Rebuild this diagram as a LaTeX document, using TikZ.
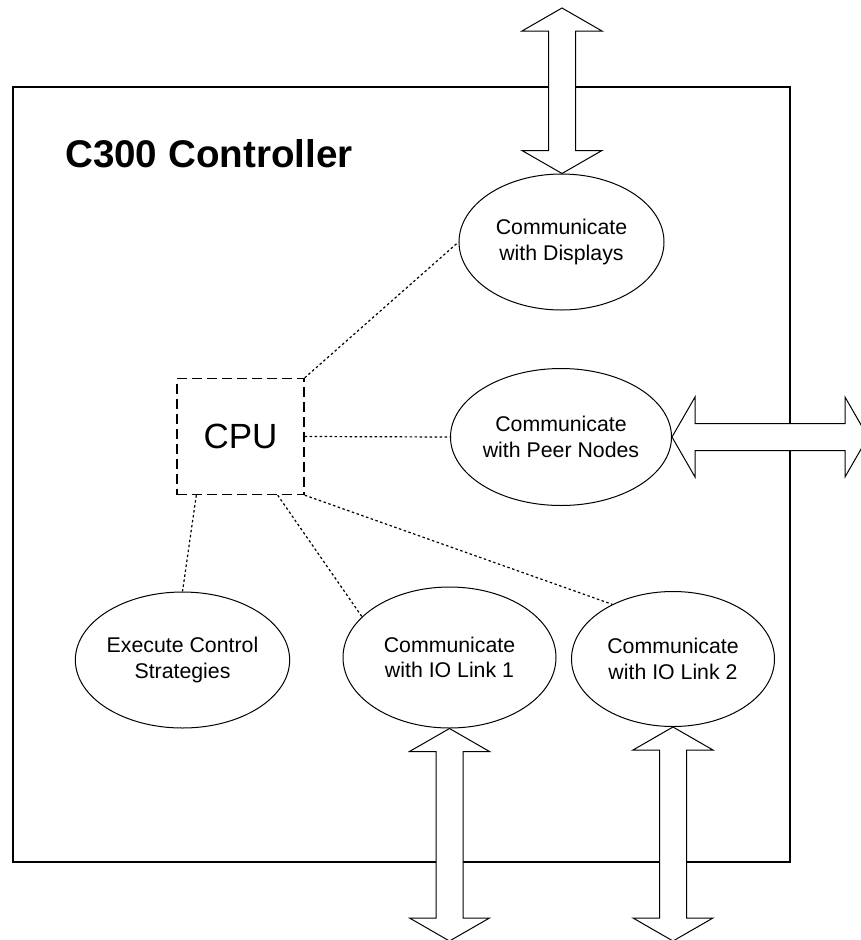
\documentclass[tikz,border=0pt]{standalone}
\usepackage{fontspec}
\setmainfont{Liberation Sans}
\usetikzlibrary{shapes.geometric,calc}
\tikzset{
  ell/.style={ellipse,draw,line width=1pt,fill=white,inner sep=0pt,align=center,
    font=\fontsize{21.3}{25.5}\selectfont},
  cpubox/.style={rectangle,draw,line width=1.4pt,dash pattern=on 10pt off 5pt,
    minimum width=127pt,minimum height=116pt,inner sep=0pt,font=\fontsize{35}{40}\selectfont},
  dotline/.style={line width=1.2pt,dash pattern=on 2.5pt off 2.5pt},
  bigarrow/.style={draw,line width=1pt,fill=white,line join=miter},
  frame/.style={draw,line width=1.3pt}
}
\newcommand{\VDoubleArrow}[2]{%
  \draw[bigarrow] let \p1=(#1), \p2=(#2) in
   (\x1,\y1) -- (\x1+40pt,\y1-23pt) -- (\x1+13.5pt,\y1-23pt) -- (\x1+13.5pt,\y2+23pt)
   -- (\x1+40pt,\y2+23pt) -- (\x1,\y2) -- (\x1-40pt,\y2+23pt) -- (\x1-13.5pt,\y2+23pt)
   -- (\x1-13.5pt,\y1-23pt) -- (\x1-40pt,\y1-23pt) -- cycle;}
\newcommand{\HDoubleArrow}[2]{%
  \draw[bigarrow] let \p1=(#1), \p2=(#2) in
   (\x1,\y1) -- (\x1+23pt,\y1+40pt) -- (\x1+23pt,\y1+13.5pt) -- (\x2-23pt,\y1+13.5pt)
   -- (\x2-23pt,\y1+40pt) -- (\x2,\y1) -- (\x2-23pt,\y1-40pt) -- (\x2-23pt,\y1-13.5pt)
   -- (\x1+23pt,\y1-13.5pt) -- (\x1+23pt,\y1-40pt) -- cycle;}
\begin{document}
\begin{tikzpicture}[x=1pt,y=-1pt]
\clip (0,0) rectangle (861,940);
\fill[white] (0,0) rectangle (861,940);
% outer frame
\draw[frame] (13,87) rectangle (790,862);
\node[anchor=base west,inner sep=0pt,font=\fontsize{38.6}{44}\selectfont\bfseries] (title) at (65,167.5) {C300 Controller};
% nodes
\node[ell,minimum width=205pt,minimum height=136pt] (disp) at (561.5,242) {Communicate\\with Displays};
\node[ell,minimum width=204pt,minimum height=137pt] (peer) at (561,437) {Communicate\\with Peer Nodes};
\node[ell,minimum width=203pt,minimum height=136pt] (exec) at (182.5,660) {Execute Control\\Strategies};
\node[ell,minimum width=213pt,minimum height=141pt] (io1) at (449.5,657.5) {Communicate\\with IO Link 1};
\node[ell,minimum width=203pt,minimum height=135pt] (io2) at (673,659) {Communicate\\with IO Link 2};
\node[cpubox] (cpu) at (240.5,436.5) {CPU};
% outer ends of the double arrows
\coordinate (dispOut) at (562,8);
\coordinate (peerOut) at (868,437);
\coordinate (io1Out) at (449.5,941);
\coordinate (io2Out) at (673,941);
% double arrows
\VDoubleArrow{dispOut}{disp.north}
\HDoubleArrow{peer.east}{peerOut}
\VDoubleArrow{io1.south}{io1Out}
\VDoubleArrow{io2.south}{io2Out}
% dotted connectors
\draw[dotline] (cpu.north east) -- (disp.west);
\draw[dotline] (cpu.east) -- (peer.west);
\draw[dotline] ([xshift=20pt]cpu.south west) -- (exec.north);
\draw[dotline] ([xshift=-27pt]cpu.south east) -- (io1.155);
\draw[dotline] (cpu.south east) -- (io2.138);
\end{tikzpicture}
\end{document}
